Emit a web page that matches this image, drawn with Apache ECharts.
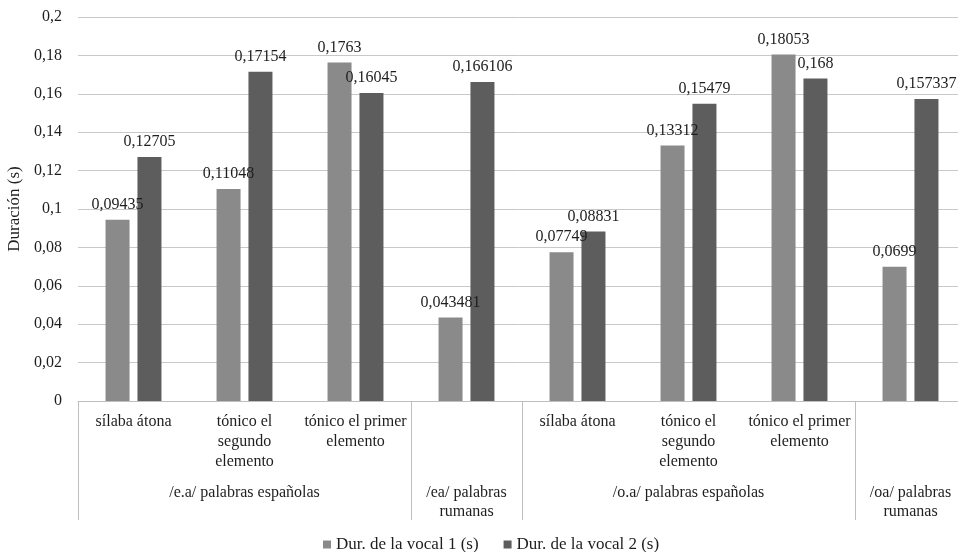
<!DOCTYPE html>
<html>
<head>
<meta charset="utf-8">
<script src="https://cdn.jsdelivr.net/npm/echarts@6/dist/echarts.min.js"></script>
<style>html,body{margin:0;padding:0;background:#fff}#c{width:958px;height:552px}</style>
</head>
<body>
<div id="c"></div>
<script>
var subCategories = ['sílaba átona', 'tónico el\nsegundo\nelemento', 'tónico el primer\nelemento', '', 'sílaba átona', 'tónico el\nsegundo\nelemento', 'tónico el primer\nelemento', ''];
var groupLabels = ['', '/e.a/ palabras españolas', '', '/ea/ palabras\nrumanas', '', '/o.a/ palabras españolas', '', '/oa/ palabras\nrumanas'];
var groupBoundaries = [0, 3, 4, 7];
var seriesNames = ['Dur. de la vocal 1 (s)', 'Dur. de la vocal 2 (s)'];
var vocal1 = [0.09435, 0.11048, 0.1763, 0.043481, 0.07749, 0.13312, 0.18053, 0.0699];
var vocal2 = [0.12705, 0.17154, 0.16045, 0.166106, 0.08831, 0.15479, 0.168, 0.157337];
var yTicks = {min: 0, max: 0.2, interval: 0.02};

var FONT = '"Liberation Serif", "Times New Roman", serif';
var TXT = '#1e1e1e';
function comma(v) { return String(v).replace('.', ','); }

var chart = echarts.init(document.getElementById('c'));
var labelStyle = {
  show: true, position: 'top', distance: 7,
  fontFamily: FONT, fontSize: 16, color: TXT,
  formatter: function (p) { return comma(p.value); }
};
chart.setOption({
  animation: false,
  backgroundColor: '#fff',
  grid: {left: 78, top: 17, width: 888, height: 384, containLabel: false, outerBoundsMode: 'none'},
  legend: {
    data: seriesNames, left: 318, top: 531,
    icon: 'rect', itemWidth: 8, itemHeight: 8, itemGap: 25,
    textStyle: {fontFamily: FONT, fontSize: 17, color: TXT}
  },
  xAxis: [{
    type: 'category', data: subCategories, position: 'bottom',
    axisLine: {show: true, lineStyle: {color: '#bfbfbf', width: 1}},
    axisTick: {show: true, length: 119, lineStyle: {color: '#bfbfbf'},
      interval: function (i) { return groupBoundaries.indexOf(i) >= 0; }},
    axisLabel: {interval: 0, margin: 11, fontFamily: FONT, fontSize: 16, lineHeight: 20, color: TXT, align: 'center'},
    splitLine: {show: false}
  }, {
    type: 'category', data: groupLabels, position: 'bottom', offset: 0,
    axisLine: {show: false}, axisTick: {show: false},
    axisLabel: {interval: 0, margin: 82, fontFamily: FONT, fontSize: 16, lineHeight: 19, color: TXT, align: 'center'},
    splitLine: {show: false}
  }],
  yAxis: {
    type: 'value', min: yTicks.min, max: yTicks.max, interval: yTicks.interval,
    name: 'Duración (s)', nameLocation: 'middle', nameGap: 53,
    nameTextStyle: {fontFamily: FONT, fontSize: 17, color: TXT},
    axisLine: {show: false}, axisTick: {show: false},
    axisLabel: {margin: 16, fontFamily: FONT, fontSize: 16, color: TXT,
      formatter: function (v) { return comma(parseFloat(v.toFixed(2))); }},
    splitLine: {lineStyle: {color: '#c8c8c8', width: 1}}
  },
  series: [{
    name: seriesNames[0], type: 'bar', data: vocal1, barWidth: 24, barGap: '33%',
    itemStyle: {color: '#8a8a8a'}, label: labelStyle
  }, {
    name: seriesNames[1], type: 'bar', data: vocal2, barWidth: 24, barGap: '33%',
    itemStyle: {color: '#5d5d5d'}, label: labelStyle
  }]
});
</script>
</body>
</html>
